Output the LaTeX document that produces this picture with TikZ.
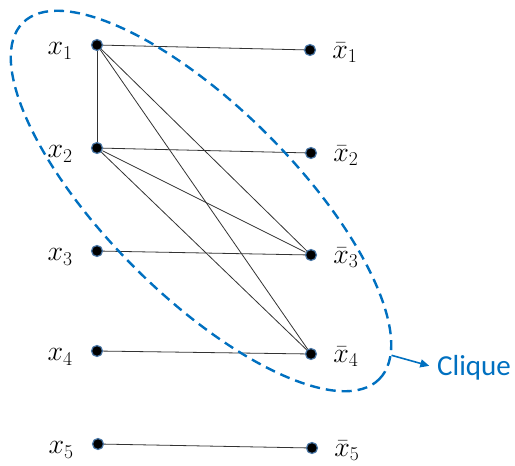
\RequirePackage{fix-cm}
\documentclass[tikz,border=0pt]{standalone}
\usepackage{fontspec}
\newfontfamily\calfont{Carlito}
\usepackage{tikz}
\usetikzlibrary{positioning,arrows.meta,shapes.geometric}
\definecolor{cliqueblue}{HTML}{0070C0}
\definecolor{glowblue}{HTML}{4A78A8}
\definecolor{edgegray}{HTML}{333333}

\begin{document}
\begin{tikzpicture}[x=1pt,y=-1pt,
  every node/.style={font=\fontsize{28}{32}\selectfont},
  dot/.style={circle,fill=black,draw=glowblue,line width=1.2pt,minimum size=11pt,inner sep=0pt},
  lbl/.style={inner sep=0pt},
  edg/.style={edgegray,line width=0.8pt},
  clq/.style={ellipse,draw=cliqueblue,line width=2.4pt,dash pattern=on 10pt off 6pt,minimum width=504pt,minimum height=188pt,inner sep=0pt},
  arr/.style={-{Triangle[length=9pt,width=8pt]},cliqueblue,line width=1.6pt,shorten >=8pt}]
\useasboundingbox (0,0) rectangle (515,466);

% left column
\node[dot] (x1) at (97,45) {};
\node[dot] (x2) at (97,148) {};
\node[dot] (x3) at (97,251) {};
\node[dot] (x4) at (97,351) {};
\node[dot] (x5) at (98,444) {};
\node[lbl,left=18pt of x1,yshift=-6pt] (lx1) {$x_1$};
\node[lbl,left=18pt of x2,yshift=-6pt] (lx2) {$x_2$};
\node[lbl,left=18pt of x3,yshift=-6pt] (lx3) {$x_3$};
\node[lbl,left=18pt of x4,yshift=-6pt] (lx4) {$x_4$};
\node[lbl,left=18pt of x5,yshift=-6pt] (lx5) {$x_5$};

% right column
\node[dot] (n1) at (310,50) {};
\node[dot] (n2) at (311,153) {};
\node[dot] (n3) at (311,255) {};
\node[dot] (n4) at (311,354) {};
\node[dot] (n5) at (312,448) {};
\node[lbl,right=16pt of n1,yshift=-3pt] (ln1) {$\bar{x}_1$};
\node[lbl,right=16pt of n2,yshift=-3pt] (ln2) {$\bar{x}_2$};
\node[lbl,right=16pt of n3,yshift=-3pt] (ln3) {$\bar{x}_3$};
\node[lbl,right=16pt of n4,yshift=-3pt] (ln4) {$\bar{x}_4$};
\node[lbl,right=16pt of n5,yshift=-3pt] (ln5) {$\bar{x}_5$};

% edges
\draw[edg] (x1)--(n1); \draw[edg] (x1)--(x2); \draw[edg] (x1)--(n3); \draw[edg] (x1)--(n4);
\draw[edg] (x2)--(n2); \draw[edg] (x2)--(n3); \draw[edg] (x2)--(n4);
\draw[edg] (x3)--(n3); \draw[edg] (x4)--(n4); \draw[edg] (x5)--(n5);

% clique
\node[clq,rotate=-45] (cl) at (201,201) {};
\node[lbl,font=\calfont\fontsize{29}{33}\selectfont,text=cliqueblue,anchor=west] (clique) at (437,368) {Clique};
\draw[arr] (cl.6) -- (clique.west);
\end{tikzpicture}
\end{document}
